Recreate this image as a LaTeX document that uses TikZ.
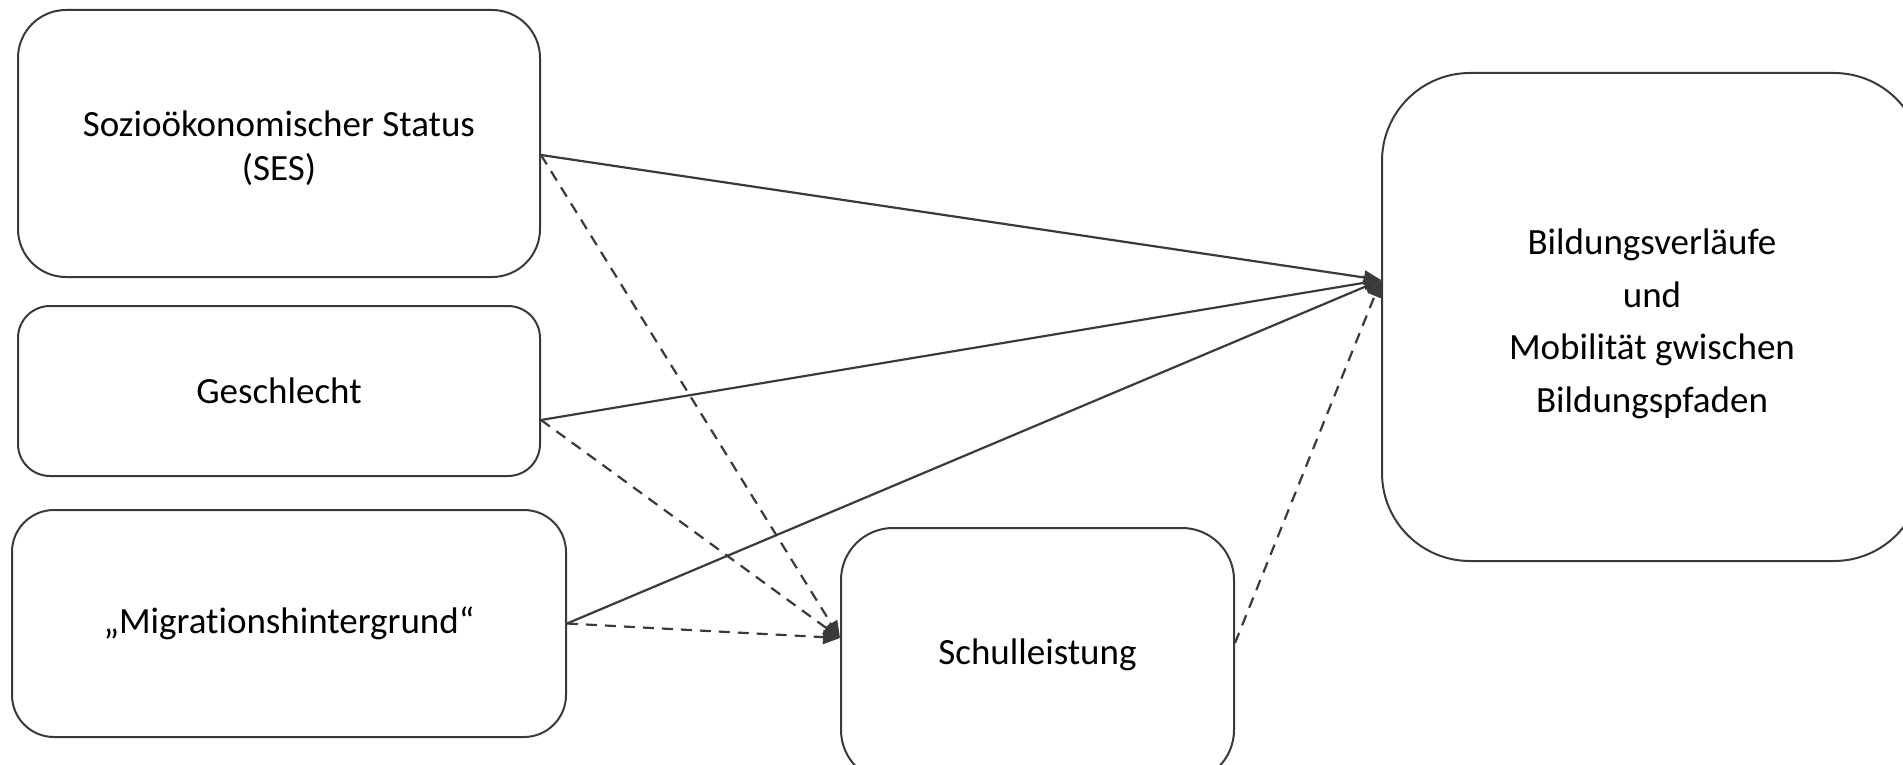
\documentclass[tikz,border=0pt]{standalone}
\usepackage{fontspec}
\setmainfont{Carlito}[Ligatures={NoCommon}]
\usetikzlibrary{arrows.meta}
\definecolor{ln}{HTML}{3A3A3A}
\begin{document}
\begin{tikzpicture}[x=1pt,y=-1pt,
  box/.style={draw=ln, line width=2pt, rectangle, align=center, inner sep=0pt,
    font=\fontsize{37}{44}\selectfont, text=black},
  lbl/.style={align=center, inner sep=0pt, font=\fontsize{37}{44}\selectfont, text=black},
  solidarrow/.style={draw=ln, line width=2.2pt, -{Triangle[length=17pt,width=14pt]}},
  dasharrow/.style={solidarrow, dash pattern=on 11pt off 8pt}]
\useasboundingbox (0,0) rectangle (1903,765);
\clip (0,0) rectangle (1903,765);
\node[box, minimum width=522pt, minimum height=267pt, rounded corners=48pt] (ses) at (279,143.5) {};
\node[lbl] (sesT) at ([yshift=-5pt]ses.center) {Sozioökonomischer Status\\(SES)};
\node[box, minimum width=522pt, minimum height=170pt, rounded corners=32pt] (ges) at (279,391) {Geschlecht};
\node[box, minimum width=554pt, minimum height=227pt, rounded corners=42pt] (mig) at (289,623.5) {„Migrationshintergrund“};
\node[box, minimum width=393pt, minimum height=254pt, rounded corners=52pt] (sch) at (1037.5,655) {Schulleistung};
\node[box, minimum width=540pt, minimum height=488pt, rounded corners=88pt] (bil) at (1652,317) {};
\node[lbl, font=\fontsize{37}{52.5}\selectfont] (bilT) at ([yshift=-7pt]bil.center) {Bildungsverläufe\\und\\Mobilität gwischen\\Bildungspfaden};
% solid paths to outcome
\draw[solidarrow] ([yshift=-11.5pt]ses.east) -- ([yshift=37pt]bil.west);
\draw[solidarrow] ([yshift=-29pt]ges.east) -- ([yshift=37pt]bil.west);
\draw[solidarrow] (mig.east) -- ([yshift=37pt]bil.west);
\draw[dasharrow] ([yshift=12pt]sch.east) -- ([yshift=37pt]bil.west);
% dashed paths to school performance
\draw[dasharrow] ([yshift=-11.5pt]ses.east) -- ([yshift=17pt]sch.west);
\draw[dasharrow] ([yshift=-29pt]ges.east) -- ([yshift=17pt]sch.west);
\draw[dasharrow] (mig.east) -- ([yshift=17pt]sch.west);
\end{tikzpicture}
\end{document}
